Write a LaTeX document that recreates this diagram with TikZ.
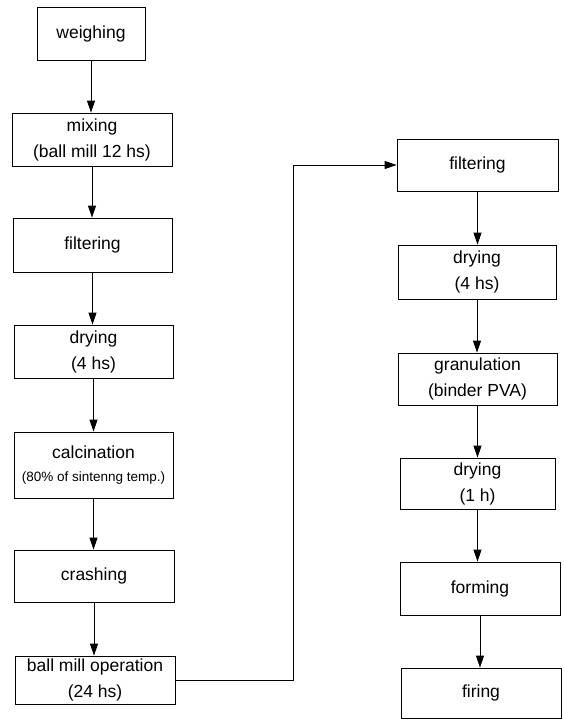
\documentclass[tikz,border=0pt]{standalone}
\usepackage{fontspec}
\setmainfont{Liberation Sans}
\usetikzlibrary{arrows.meta,calc}
\begin{document}
\begin{tikzpicture}[x=1pt,y=-1pt,
  box/.style={draw=black,line width=0.8pt,rectangle,inner sep=0pt,align=center,
    font=\fontsize{17.5}{26}\selectfont},
  arr/.style={draw=black,line width=0.8pt,-{Triangle[width=8pt,length=12pt]}}]
\useasboundingbox (0,0) rectangle (564,720);
% left column
\node[box,minimum width=108pt,minimum height=53pt] (weigh) at (91,33.5) {weighing};
\node[box,minimum width=160pt,minimum height=53pt] (mix) at (92,139.5) {mixing\\(ball mill 12 hs)};
\node[box,minimum width=159pt,minimum height=54pt] (filt1) at (92.5,245) {filtering};
\node[box,minimum width=159pt,minimum height=53pt] (dry1) at (93.5,351.5) {drying\\(4 hs)};
\node[box,minimum width=159pt,minimum height=66pt] (calc) at (93.5,465) {calcination\\[-3pt]{\fontsize{13.5}{16}\selectfont (80\% of sintenng temp.)}};
\node[box,minimum width=160pt,minimum height=52pt] (crash) at (94,576) {crashing};
\node[box,minimum width=160pt,minimum height=48pt] (ball) at (95,680) {ball mill operation\\(24 hs)};
% right column
\node[box,minimum width=161pt,minimum height=52pt] (filt2) at (477.5,165) {filtering};
\node[box,minimum width=158pt,minimum height=54pt] (dry2) at (477,272) {drying\\(4 hs)};
\node[box,minimum width=159pt,minimum height=52pt] (gran) at (477.5,379) {granulation\\(binder PVA)};
\node[box,minimum width=155pt,minimum height=51pt] (dry3) at (477.5,483.5) {drying\\(1 h)};
\node[box,minimum width=160pt,minimum height=53pt] (form) at (480,588.5) {forming};
\node[box,minimum width=160pt,minimum height=50pt] (fire) at (481,693) {firing};
% connectors
\draw[arr] (weigh.south) -- (weigh.south |- mix.north);
\draw[arr] (mix.south) -- (mix.south |- filt1.north);
\draw[arr] (filt1.south) -- (filt1.south |- dry1.north);
\draw[arr] (dry1.south) -- (dry1.south |- calc.north);
\draw[arr] (calc.south) -- (calc.south |- crash.north);
\draw[arr] (crash.south) -- (crash.south |- ball.north);
\coordinate (turn) at (293,165);
\draw[arr] (ball.east) -| (turn) -- (filt2.west);
\draw[arr] (filt2.south) -- (filt2.south |- dry2.north);
\draw[arr] (dry2.south) -- (dry2.south |- gran.north);
\draw[arr] (gran.south) -- (gran.south |- dry3.north);
\draw[arr] (dry3.south) -- (dry3.south |- form.north);
\draw[arr] (form.south) -- (form.south |- fire.north);
\end{tikzpicture}
\end{document}
